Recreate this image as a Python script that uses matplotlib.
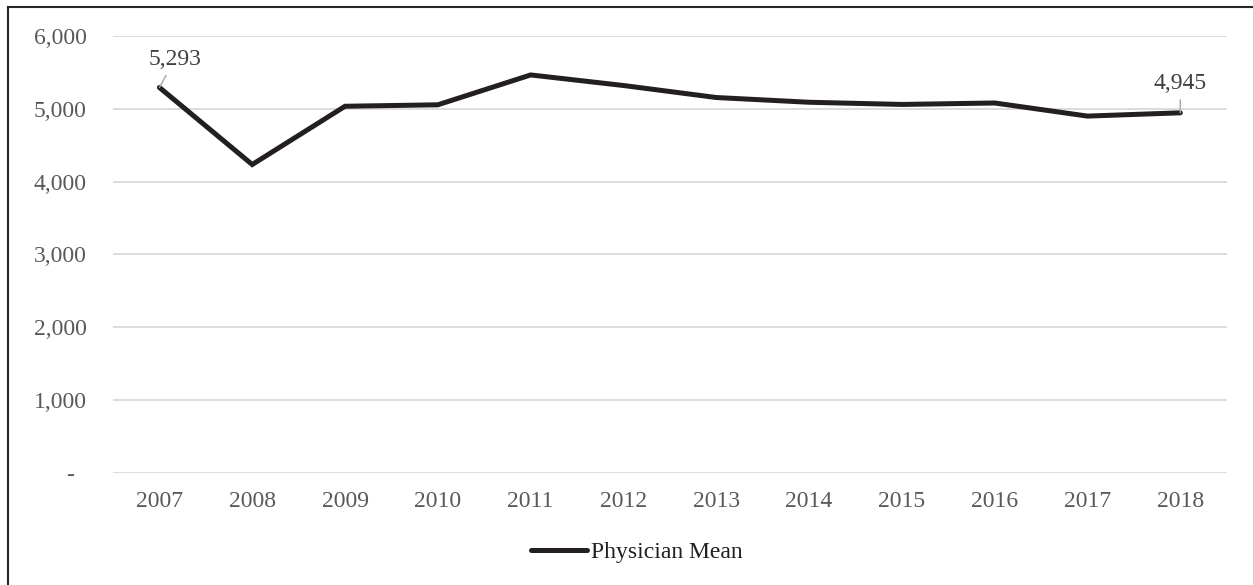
import numpy as np
import matplotlib.pyplot as plt
from matplotlib.lines import Line2D

plt.rcParams['font.family'] = ['Liberation Serif', 'DejaVu Serif']

years = ['2007', '2008', '2009', '2010', '2011', '2012',
         '2013', '2014', '2015', '2016', '2017', '2018']
physician_mean = [5293, 4235, 5035, 5055, 5465, 5320,
                  5155, 5090, 5060, 5080, 4900, 4945]
y_ticks = [0, 1000, 2000, 3000, 4000, 5000, 6000]
y_tick_labels = ['-  ', '1,000', '2,000', '3,000', '4,000', '5,000', '6,000']

fig = plt.figure(figsize=(12.53, 5.85), dpi=100)
ax = fig.add_axes([0.0902, 0.1915, 0.8888, 0.747])

x = np.arange(len(years))
line, = ax.plot(x, physician_mean, color='#231f20', lw=3.6,
                solid_joinstyle='miter', solid_capstyle='round',
                label='Physician Mean', zorder=3)

ax.set_xlim(-0.5, len(years) - 0.5)
ax.set_ylim(0, 6000)
ax.set_xticks(x)
ax.set_xticklabels(years)
ax.set_yticks(y_ticks)
ax.set_yticklabels(y_tick_labels)
ax.tick_params(axis='both', length=0, labelsize=17, labelcolor='#595959')
ax.tick_params(axis='x', pad=13)
ax.tick_params(axis='y', pad=19)
ax.grid(axis='y', color='#d9d9d9', lw=1.3)
ax.set_axisbelow(True)
for s in ax.spines.values():
    s.set_visible(False)

# data labels at first and last point
ax.annotate('{:,}'.format(physician_mean[0]), (x[0], physician_mean[0]),
            xytext=(11, 20), textcoords='offset points', ha='center', va='center',
            fontsize=17, color='#404040',
            arrowprops=dict(arrowstyle='-', color='#a6a6a6', lw=1, shrinkA=2, shrinkB=0))
ax.annotate('{:,}'.format(physician_mean[-1]), (x[-1], physician_mean[-1]),
            xytext=(0, 21), textcoords='offset points', ha='center', va='center',
            fontsize=17, color='#404040',
            arrowprops=dict(arrowstyle='-', color='#a6a6a6', lw=1, shrinkA=2, shrinkB=0))

fig.legend(handles=[line], loc='center', bbox_to_anchor=(0.508, 0.056),
           frameon=False, fontsize=17, handlelength=2.4, handletextpad=0.15,
           labelcolor='#231f20')

# chart border: only top and left edges are visible in the crop
fx0, fy1 = 8 / 1253, 1 - 7 / 585
fig.lines.append(Line2D([fx0, 1], [fy1, fy1], transform=fig.transFigure,
                        color='#262626', lw=1.5))
fig.lines.append(Line2D([fx0, fx0], [0, fy1], transform=fig.transFigure,
                        color='#262626', lw=1.5))

fig.savefig('out.png', dpi=100)
